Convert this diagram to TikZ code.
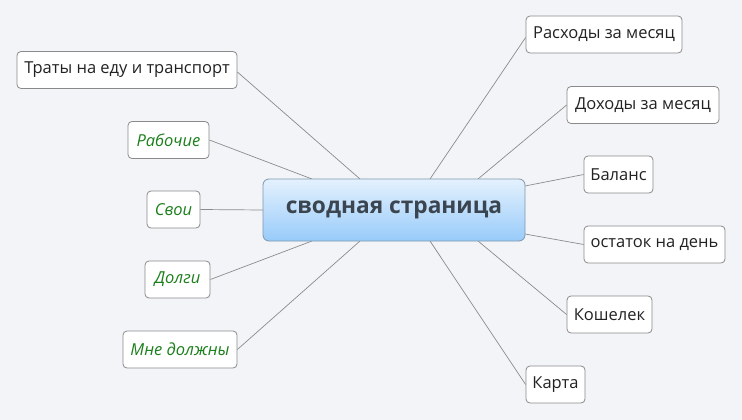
\documentclass[tikz,border=0pt]{standalone}
\usepackage{fontspec}
\setmainfont{Open Sans}
\usetikzlibrary{calc}
\definecolor{bg}{HTML}{F3F4F8}
\definecolor{edge}{HTML}{8C8C8C}
\definecolor{boxline}{HTML}{8A8A8A}
\definecolor{txt}{HTML}{222222}
\definecolor{grn}{HTML}{1B7F1B}
\definecolor{ctop}{HTML}{E4F1FD}
\definecolor{cbot}{HTML}{98CBFA}
\definecolor{cline}{HTML}{7E97AD}
\definecolor{ctxt}{HTML}{3A4550}
\tikzset{
  leaf/.style={draw=boxline, fill=white, rounded corners=4pt, line width=0.8pt,
    inner sep=0pt, minimum height=37pt, text=txt, font=\fontsize{16.5}{19}\selectfont},
  gleaf/.style={leaf, text=grn, font=\fontsize{16.5}{19}\selectfont\itshape},
  center/.style={draw=cline, rounded corners=6pt, line width=0.8pt, top color=ctop, bottom color=cbot,
    inner sep=0pt, minimum width=262pt, minimum height=62pt, text=ctxt, font=\fontsize{22.7}{26}\selectfont\bfseries},
  conn/.style={draw=edge, line width=0.7pt}
}
\begin{document}
\begin{tikzpicture}[x=1pt,y=-1pt]
\fill[bg] (0,0) rectangle (742,420);
\useasboundingbox (0,0) rectangle (742,420);
\coordinate (a1) at (360,179);
\coordinate (a2) at (312,179);
\coordinate (a0) at (263,210);
\coordinate (a3) at (312,241);
\coordinate (a4) at (360,241);
\coordinate (b1) at (430,179);
\coordinate (b2) at (478,179);
\coordinate (b3) at (525,186);
\coordinate (b4) at (525,234);
\coordinate (b5) at (478,241);
\coordinate (b6) at (430,241);
\node[leaf, minimum width=220pt] (t1) at (127,70) {Траты на еду и транспорт};
\node[gleaf, minimum width=81pt] (t2) at (168.5,140) {Рабочие};
\node[gleaf, minimum width=53pt] (t3) at (173.5,209.5) {Свои};
\node[gleaf, minimum width=65pt] (t4) at (177.5,279.5) {Долги};
\node[gleaf, minimum width=114pt] (t5) at (180,349.5) {Мне должны};
\node[leaf, minimum width=156pt] (r1) at (604,34.5) {Расходы за месяц};
\node[leaf, minimum width=152pt] (r2) at (643,105) {Доходы за месяц};
\node[leaf, minimum width=69pt] (r3) at (618.5,174.5) {Баланс};
\node[leaf, minimum width=141pt] (r4) at (654.5,244.5) {остаток на день};
\node[leaf, minimum width=85pt] (r5) at (609.5,314.5) {Кошелек};
\node[leaf, minimum width=59pt] (r6) at (555.5,384.5) {Карта};
\draw[conn] ([yshift=-2pt]t1.east) -- (a1);
\draw[conn] (t2.east) -- (a2);
\draw[conn] (t3.east) -- (a0);
\draw[conn] (t4.east) -- (a3);
\draw[conn] (t5.east) -- (a4);
\draw[conn] ([yshift=-3pt]r1.west) -- (b1);
\draw[conn] (r2.west) -- (b2);
\draw[conn] (r3.west) -- (b3);
\draw[conn] (r4.west) -- (b4);
\draw[conn] (r5.west) -- (b5);
\draw[conn] (r6.west) -- (b6);
\node[center] (c) at (394,210) {сводная страница};
\end{tikzpicture}
\end{document}
